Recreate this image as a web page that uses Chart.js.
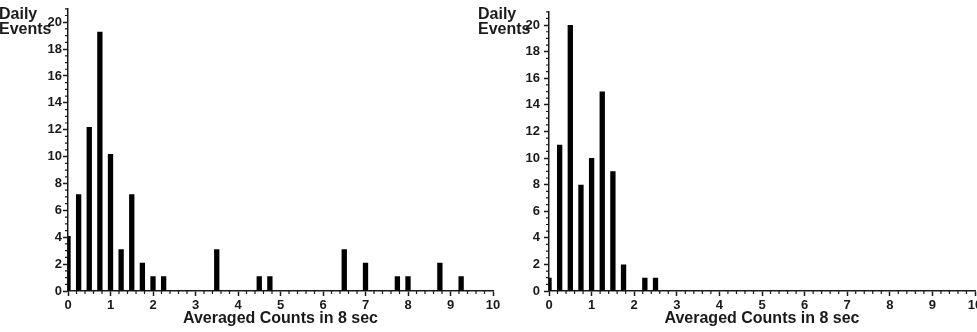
<!DOCTYPE html>
<html><head><meta charset="utf-8">
<script src="https://cdn.jsdelivr.net/npm/chart.js@4/dist/chart.umd.min.js"></script>
<style>
html,body{margin:0;padding:0;background:#fff;overflow:hidden;width:977px;height:332px;position:relative;}
.wrap{position:absolute;top:0;height:332px;}
.lbl{position:absolute;font:bold 16px "Liberation Sans",Arial,sans-serif;line-height:15px;color:#1a1a1a;white-space:nowrap;}
</style></head><body>
<div class="wrap" style="left:0;width:510px"><canvas id="c1" width="510" height="332"></canvas></div>
<div class="wrap" style="left:490px;width:500px"><canvas id="c2" width="500" height="332"></canvas></div>
<div class="lbl" style="left:-1px;top:6px">Daily<br>Events</div>
<div class="lbl" style="left:478px;top:6px">Daily<br>Events</div>
<script>
// ---- data ----
const binsLeft   = [0, 0.25, 0.5, 0.75, 1, 1.25, 1.5, 1.75, 2, 2.25, 3.5, 4.5, 4.75, 6.5, 7, 7.75, 8, 8.75, 9.25];
const countsLeft = [4.1, 7.2, 12.2, 19.3, 10.2, 3.1, 7.2, 2.1, 1.1, 1.1, 3.1, 1.1, 1.1, 3.1, 2.1, 1.1, 1.1, 2.1, 1.1];
const binsRight   = [0, 0.25, 0.5, 0.75, 1, 1.25, 1.5, 1.75, 2.25, 2.5];
const countsRight = [1, 11, 20, 8, 10, 15, 9, 2, 1, 1];
const xTitle = 'Averaged Counts in 8 sec';
const xMin = 0, xMax = 10, xStep = 1, xMinorStep = 0.2;
const yMin = 0, yMax = 21, yStep = 2, yMinorStep = 0.5;

const INK = '#1a1a1a';
const FONT = '"Liberation Sans", Arial, sans-serif';

const minorTicks = {
  id: 'minorTicks',
  afterDraw(chart) {
    const ctx = chart.ctx, xs = chart.scales.x, ys = chart.scales.y, a = chart.chartArea;
    ctx.save();
    ctx.strokeStyle = INK; ctx.lineWidth = 1.2;
    ctx.beginPath();
    const nx = Math.round((xMax - xMin) / xMinorStep);
    for (let i = 0; i <= nx; i++) {
      const v = xMin + i * xMinorStep;
      if (Math.abs(v - Math.round(v / xStep) * xStep) < 1e-6) continue;
      const px = xs.getPixelForValue(v);
      ctx.moveTo(px, a.bottom); ctx.lineTo(px, a.bottom + 3);
    }
    const ny = Math.round((yMax - yMin) / yMinorStep);
    for (let i = 0; i <= ny; i++) {
      const v = yMin + i * yMinorStep;
      if (Math.abs(v - Math.round(v / yStep) * yStep) < 1e-6) continue;
      const py = ys.getPixelForValue(v);
      ctx.moveTo(a.left, py); ctx.lineTo(a.left - 3, py);
    }
    ctx.stroke();
    ctx.restore();
  }
};

function makeChart(id, bins, counts, yWidth, padRight, yPad) {
  const data = bins.map((b, i) => ({ x: b, y: counts[i] }));
  const tickFont = { family: FONT, size: 13, weight: 'bold' };
  return new Chart(document.getElementById(id), {
    type: 'bar',
    data: { datasets: [{ data, backgroundColor: '#000', borderWidth: 0, barPercentage: 0.5, categoryPercentage: 1 }] },
    options: {
      responsive: false, animation: false,
      layout: { padding: { left: 0, right: padRight, top: 2, bottom: 0 } },
      plugins: { legend: { display: false }, tooltip: { enabled: false } },
      scales: {
        x: {
          type: 'linear', min: xMin, max: xMax, offset: false,
          ticks: { stepSize: xStep, font: tickFont, color: INK, padding: 2, maxRotation: 0, autoSkip: false },
          grid: { offset: false, drawOnChartArea: false, drawTicks: true, tickLength: 5, tickColor: INK, tickWidth: 1.5 },
          border: { color: INK, width: 1.5 },
          title: { display: true, text: xTitle, color: INK, font: { family: FONT, size: 16, weight: 'bold' }, padding: { top: 0, bottom: 4 } },
          afterFit(s) { s.height = 41; }
        },
        y: {
          min: yMin, max: yMax,
          ticks: { stepSize: yStep, includeBounds: false, font: tickFont, color: INK, padding: yPad },
          grid: { drawOnChartArea: false, drawTicks: true, tickLength: 5, tickColor: INK, tickWidth: 1.5 },
          border: { color: INK, width: 1.5 },
          afterFit(s) { s.width = yWidth; }
        }
      }
    },
    plugins: [minorTicks]
  });
}

makeChart('c1', binsLeft, countsLeft, 68, 17, 1);
makeChart('c2', binsRight, countsRight, 59, 15, 4);
</script>
</body></html>
